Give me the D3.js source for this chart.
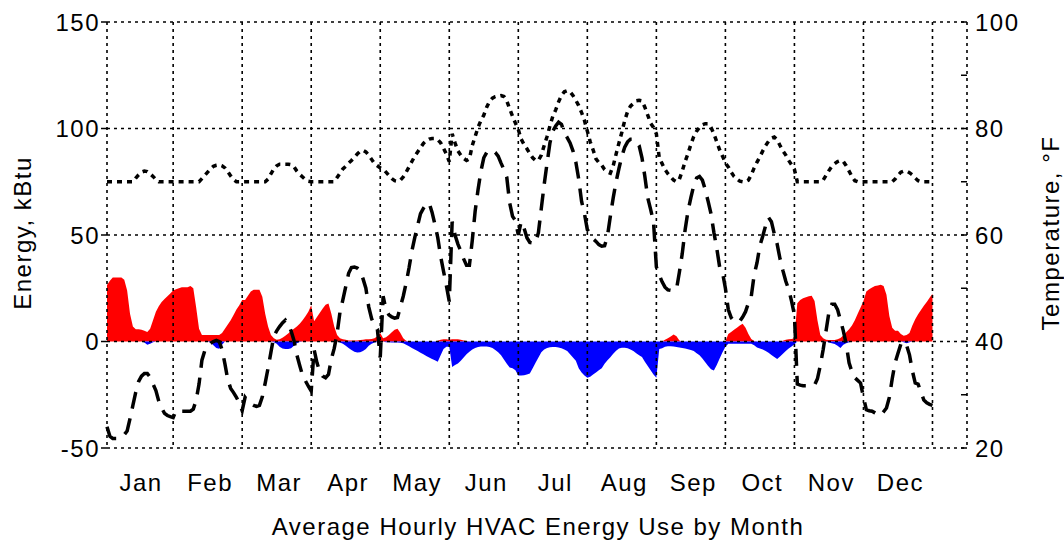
<!DOCTYPE html>
<html><head><meta charset="utf-8">
<script src="https://cdn.jsdelivr.net/npm/d3@7"></script>
<style>
body{margin:0;background:#fff}
svg{display:block}
text{font-family:"Liberation Sans",Arial,Helvetica,sans-serif;fill:#000;letter-spacing:1.5px}
</style>
</head><body>
<svg id="chart" width="1064" height="542"></svg>
<script>
// ---- data: 24 hourly averages per month ----
const months = ["Jan","Feb","Mar","Apr","May","Jun","Jul","Aug","Sep","Oct","Nov","Dec"];

// heating energy, kBtu (red, positive)
const heating = [
 [26.5,28.5,30,30,30,30,29,24,13,7,5.8,5.8,5.5,5,4.5,6,10,14,16.5,18.5,20,21.3,22.5,24],
 [24.5,25,25.5,25.5,25.5,26,25,16,6,3,3,3,3,3,3,3,4,6,8,10,12.5,15,17,19.5],
 [19.5,21.5,23.5,24.3,24.3,24.3,21,13,7,3,1.5,0.8,1,1.8,2.7,3.8,5,6,7,8.3,10,11.8,14,17],
 [9.5,11.5,13.5,15.5,17.3,17.8,13,7,3,1.5,1,0.8,0.5,0.5,0.5,0.5,0.7,0.8,1,1,1.2,1.5,2.5,4],
 [1.5,2,3,4.3,5.5,6,4,1.5,0.3,0,0,0,0,0,0,0,0,0,0,0.3,0.8,1,1,0.8],
 [1,1,1,0.8,0.5,0.2,0,0,0,0,0,0,0,0,0,0,0,0,0,0,0,0,0,0],
 [0,0,0,0,0,0,0,0,0,0,0,0,0,0,0,0,0,0,0,0,0,0,0,0],
 [0,0,0,0,0,0,0,0,0,0,0,0,0,0,0,0,0,0,0,0,0,0,0,0],
 [0,0,0.8,1.5,2.4,3.3,2.5,0.5,0,0,0,0,0,0,0,0,0,0,0,0,0,0,0,0],
 [3.5,4.5,5.5,6.5,7.5,8.3,6.5,3.5,1.2,0.2,0,0,0,0,0,0,0,0,0,0.3,0.8,1,1.2,1.5],
 [18,19.5,20.3,20.8,21.2,21.5,19,10,3,1.5,0.8,0.7,0.7,0.7,1,1.7,2.8,4.3,5.8,7.5,10,13,16,19],
 [23.5,24.5,25.3,26,26.3,26.6,26,22,12,6.5,5,5,3.5,2.7,3,4,7.5,10.5,12.8,14.8,16.8,18.6,20.5,22.4]
];

// cooling energy, kBtu (blue, negative)
const cooling = [
 [0,0,0,0,0,0,0,0,0,0,0,0,0,-0.5,-1.5,-1,-0.3,0,0,0,0,0,0,0],
 [0,0,0,0,0,0,0,0,0,0,0,0,-0.5,-1.8,-3,-3.4,-1.5,0,0,0,0,0,0,0],
 [0,0,0,0,0,0,0,0,0,0,-0.3,-1,-2.5,-3.3,-3.5,-3.5,-3.2,-2,-0.8,-0.2,0,0,0,0],
 [0,0,0,0,0,0,0,0,0,-0.5,-1,-2,-3,-4,-4.8,-5.2,-5,-4.5,-3.5,-2,-1,-0.5,-0.2,0],
 [0,-0.3,-0.4,-0.5,-0.5,-0.5,-0.6,-0.8,-1.5,-2.2,-3,-3.8,-4.5,-5.3,-6,-6.8,-7.5,-8.2,-8.8,-9.5,-6.5,-3.5,-2.5,-2.5],
 [-12,-11,-10.3,-9,-7.5,-6,-4.8,-3.8,-3,-2.6,-2.4,-2.3,-2.4,-2.6,-3,-4,-5,-6.5,-8.5,-10.5,-12.2,-12.5,-13.5,-16],
 [-16,-15.8,-15.5,-15,-12.5,-10,-7.5,-5,-3.8,-3,-2.7,-2.6,-2.6,-2.8,-3.2,-3.8,-4.5,-6,-7.5,-9,-12.5,-14.5,-16,-17],
 [-16.5,-15.5,-14.5,-13.5,-12.5,-10.5,-8.8,-7.4,-5.8,-4.3,-3.3,-2.9,-2.9,-3.2,-3.8,-4.5,-5.5,-6.5,-7.3,-9.5,-11.5,-13.5,-15.5,-17],
 [-3.5,-3.2,-2.5,-2.2,-2.2,-2.3,-2.6,-2.8,-3,-3.3,-3.6,-4,-4.5,-5.5,-6.5,-8,-9.8,-11.5,-13,-13.6,-11,-8,-5,-2.5],
 [-1,-1,-1,-1,-1,-1,-1,-1,-1,-1.8,-2.8,-3.3,-3.8,-4.5,-5.3,-6.3,-7.3,-8.2,-7,-5.8,-4.5,-3.3,-2.3,-1.3],
 [0,0,0,0,0,0,0,0,0,0,0,-0.5,-0.8,-1.2,-2,-3,-1.5,-0.8,-0.3,0,0,0,0,0],
 [0,0,0,0,0,0,0,0,0,0,0,0,0,-0.3,-0.8,-0.3,0,0,0,0,0,0,0,0]
];

// indoor temperature, °F (dotted)
const indoorTemp = [
 [70,70,70,70,70,70,70,70,70,70,70.7,71.3,71.8,72,71.9,71.5,71,70.4,70,70,70,70,70,70],
 [70,70,70,70,70,70,70,70,70,70.6,71.2,71.8,72.4,72.9,73.1,73.2,73,72.6,71.9,71.1,70.4,70,70,70],
 [70,70,70,70,70,70,70,70,70.5,71.5,72.4,73,73.3,73.3,73.3,73.3,73.2,72.8,72,71.4,70.9,70.4,70.1,70],
 [70,70,70,70,70,70,70,70,70.8,71.6,72.4,72.9,73.5,74,74.6,75.2,75.7,75.9,75.6,75,74.2,73.4,73,72.6],
 [72.4,71.8,71.2,70.6,70.2,70.1,70.3,70.9,71.8,72.8,73.8,74.8,75.6,76.4,77.2,77.7,78,78.1,78.1,77.9,77.3,76.3,75.2,73.8],
 [79,77.3,75.8,75,74.4,74,74.3,76.8,78.5,80.2,81.5,82.5,84,85.1,85.7,86,86.1,86.2,86,85.2,83.7,82.3,81,79.8],
 [78,77,76.2,75.3,74.5,74,74,75,76.8,78.5,80.5,82.3,83.5,85,86.2,86.9,87.1,86.9,86.2,85.3,84.3,83,81.5,79.5],
 [77.5,76,74.3,73.6,73.1,72.3,71.8,71.6,73,75.2,77.3,79.3,81.5,83.2,84.2,84.7,85.2,85.3,85.2,84,82.5,81,80.2,79],
 [74.5,73.4,72.3,71.5,70.9,70.3,70,70.5,72,73.8,75.3,77,78.5,79.5,80.2,80.7,80.9,80.9,80.2,79,77.5,76,74.8,73.5],
 [72.8,71.8,71,70.5,70.1,70,70,70.3,71.3,72.6,73.7,74.7,75.8,76.8,77.6,78.2,78.4,77.9,76.8,75.8,75,74,73.2,72.3],
 [70,70,70,70,70,70,70,70,70,70.3,71.2,72.1,72.9,73.4,73.8,74,73.8,73,72,71,70.2,70,70,70],
 [70,70,70,70,70,70,70,70,70,70,70.5,71.2,71.8,72,72,71.7,71.3,70.7,70.2,70,70,70,70,70]
];

// outdoor temperature, °F (dashed)
const outdoorTemp = [
 [24,22.2,21.8,21.8,21.8,22,22.5,23.2,25.5,28,30.5,32.5,33.5,34,34,33.3,32,30.8,28.8,27.5,26.5,26.1,25.9,25.7],
 [27,26.9,26.9,26.9,26.9,26.9,27.3,29,32,36.5,38.3,39.2,39.7,40,40.2,40,38.5,35.8,32.8,31.2,30.4,29.5,28.5,27],
 [29.5,28.8,28.3,28,27.8,28,29.6,32.2,35,38,41,42,42.8,43.5,44,43.2,42,40.2,37.5,35.5,33.6,32.6,31.6,30.7],
 [38.5,36,34.3,33.5,33.2,33.8,36.7,38.7,41.5,45.5,47.8,50.3,52.8,53.9,54,53.8,53.3,51.8,50,46.5,44.3,43,42.3,37],
 [48.5,46,45,44.6,44.4,44.5,46.5,48.5,51,53.8,57,59.5,61.8,64,65,65.8,66,64.3,62,59.5,56,53.2,50.5,47.5],
 [62.5,60,58.3,57,55.5,54.3,54.3,59,64.5,68.5,72,74.5,75.5,75.9,75.9,75.5,74.8,73.5,72.3,70.8,66,63.5,62.7,60],
 [62.5,61.3,59.5,58.6,58.5,58.5,60.5,65,69.5,73.5,77.3,79.5,80.5,81.2,80.8,79.2,78.3,77.3,75.8,73.7,70.5,66.3,64,61],
 [60.3,59.3,58.8,58.2,57.9,58,59.8,63.5,67,70,72.5,74.8,76.5,77.5,78,78,77.6,76.8,74.5,71,67,64.8,62.5,54],
 [52.5,51.2,50.2,49.7,49.6,49.6,49.8,53,56.5,61,64.5,67,69.3,70.7,71,70.3,68.5,66.3,64,60.5,57.5,54,53,50],
 [46,44.5,43.8,43.6,43.8,44.6,45.6,47.2,48.5,52.5,54.8,58,59.8,61.8,63.3,62.5,60.2,58.3,55.5,53.3,51.3,49.8,47.6,45],
 [32,31.8,31.7,31.7,31.7,31.7,31.8,33,35.5,38.5,42,45.5,47,47,46,44,42,39.5,36,34.3,33.2,32.7,32.2,29.5],
 [27.2,27,26.9,26.6,26.3,26.1,26.8,27.5,29.5,33,36,37.8,39.5,40,39.3,37.5,34.5,32.2,32,30.5,29,28.5,28.2,28]
];

const energyTicks = [-50,0,50,100,150];
const tempTicks = [20,40,60,80,100];
const tempMinorTicks = [20,30,40,50,60,70,80,90,100];
const monthBoundaries = [24,48,72,96,120,144,168,192,216,240,264,288];

// ---- layout ----
const L = 107, R = 967, T = 22, B = 448;
const FS = 24;
const svg = d3.select("#chart");
const x = d3.scaleLinear().domain([1, 300]).range([L, R]);
const yE = d3.scaleLinear().domain([-50, 150]).range([B, T]);
const yT = d3.scaleLinear().domain([20, 100]).range([B, T]);

const heat = heating.flat(), cool = cooling.flat();
const tin = indoorTemp.flat(), tout = outdoorTemp.flat();
const idx = d3.range(heat.length);

// areas
svg.append("path").datum(idx)
  .attr("d", d3.area().x(i => x(i + 1)).y0(yE(0)).y1(i => yE(heat[i])))
  .attr("fill", "#ff0000");
svg.append("path").datum(idx)
  .attr("d", d3.area().x(i => x(i + 1)).y0(yE(0)).y1(i => yE(cool[i])))
  .attr("fill", "#0000ff");

// grid (on top of areas)
const grid = svg.append("g").attr("stroke", "#000").attr("stroke-width", 1.6)
  .attr("stroke-dasharray", "3,4").attr("fill", "none");
energyTicks.forEach(v => {
  grid.append("line").attr("x1", L).attr("x2", R).attr("y1", yE(v)).attr("y2", yE(v));
});
[1, 300].concat(monthBoundaries).forEach(v => {
  grid.append("line").attr("x1", x(v)).attr("x2", x(v)).attr("y1", T).attr("y2", B);
});

// lines
svg.append("path").datum(idx)
  .attr("d", d3.line().x(i => x(i + 1)).y(i => yT(tout[i])))
  .attr("fill", "none").attr("stroke", "#000").attr("stroke-width", 3.5)
  .attr("stroke-dasharray", "17,10");
svg.append("path").datum(idx)
  .attr("d", d3.line().x(i => x(i + 1)).y(i => yT(tin[i])))
  .attr("fill", "none").attr("stroke", "#000").attr("stroke-width", 3.5)
  .attr("stroke-dasharray", "5,5");

// left axis ticks + labels
const ax = svg.append("g");
energyTicks.forEach(v => {
  ax.append("line").attr("x1", L - 6).attr("x2", L).attr("y1", yE(v)).attr("y2", yE(v))
    .attr("stroke", "#000").attr("stroke-width", 1.5);
  ax.append("text").attr("x", L - 7).attr("y", yE(v)).attr("dy", "0.36em")
    .attr("text-anchor", "end").attr("font-size", FS).text(v);
});
// right axis ticks + labels
tempMinorTicks.forEach(v => {
  ax.append("line").attr("x1", R - 6).attr("x2", R).attr("y1", yT(v)).attr("y2", yT(v))
    .attr("stroke", "#000").attr("stroke-width", 1.5);
});
tempTicks.forEach(v => {
  ax.append("text").attr("x", R + 8).attr("y", yT(v)).attr("dy", "0.36em")
    .attr("text-anchor", "start").attr("font-size", FS).text(v);
});
// month labels
months.forEach((m, k) => {
  ax.append("text").attr("x", x(12.5 + 24 * k) + 1).attr("y", 491)
    .attr("text-anchor", "middle").attr("font-size", FS).text(m);
});
// axis titles
ax.append("text").attr("x", 538).attr("y", 535)
  .attr("text-anchor", "middle").attr("font-size", FS)
  .text("Average Hourly HVAC Energy Use by Month");
ax.append("text").attr("transform", `translate(31,233) rotate(-90)`)
  .attr("text-anchor", "middle").attr("font-size", FS).text("Energy, kBtu");
ax.append("text").attr("transform", `translate(1059,233) rotate(-90)`)
  .attr("text-anchor", "middle").attr("font-size", FS).text("Temperature, °F");
</script>
</body></html>
